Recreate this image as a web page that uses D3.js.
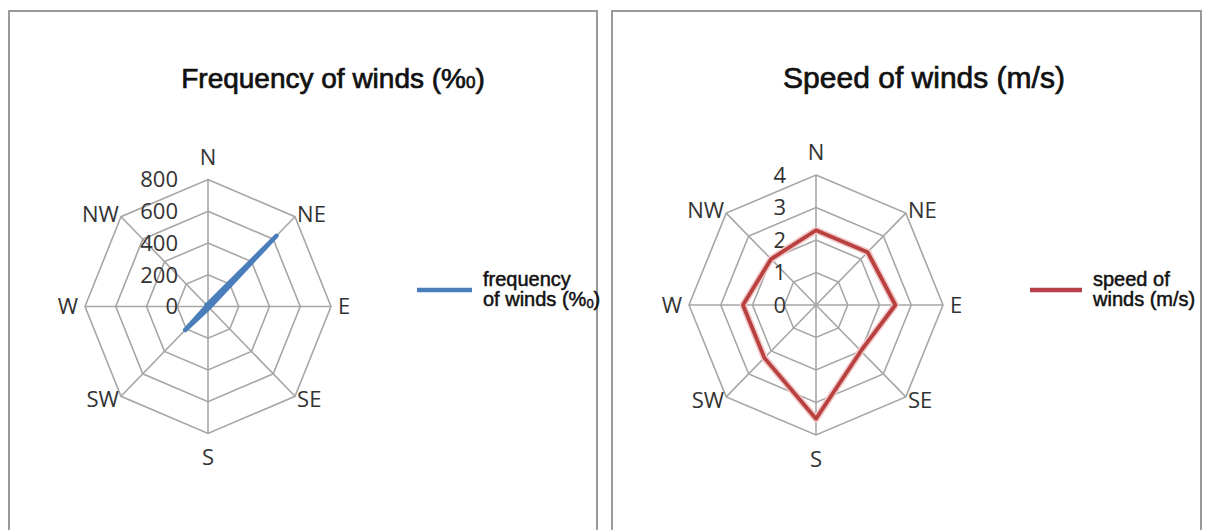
<!DOCTYPE html>
<html>
<head>
<meta charset="utf-8">
<script src="https://cdn.jsdelivr.net/npm/d3@7"></script>
<style>
  html, body { margin: 0; padding: 0; background: #fff; }
  svg { display: block; }
</style>
</head>
<body>
<svg id="chart" width="1208" height="530"></svg>
<script>
// ---------- data ----------
const directions = ["N", "NE", "E", "SE", "S", "SW", "W", "NW"];
const freqValues = [15, 630, 15, 10, 15, 210, 10, 15];
const speedValues = [2.3, 2.3, 2.5, 2.0, 3.5, 2.3, 2.3, 2.0];
const freqTicks = [0, 200, 400, 600, 800];
const speedTicks = [0, 1, 2, 3, 4];
const freqTitle = "Frequency of winds (%";
const speedTitle = "Speed of winds (m/s)";
const freqLegend = ["frequency", "of winds (%"];
const speedLegend = ["speed of", "winds (m/s)"];

const svg = d3.select("#chart");

// panel frames
function frame(x0, x1) {
  svg.append("path")
    .attr("d", `M${x0},545 L${x0},11 L${x1},11 L${x1},545`)
    .attr("fill", "none")
    .attr("stroke", "#9a9a9a")
    .attr("stroke-width", 2);
}
frame(9, 597);
frame(612, 1201);

function radar(cfg) {
  const g = svg.append("g");
  const angle = d3.scaleLinear().domain([0, directions.length]).range([0, 2 * Math.PI]);
  const radius = d3.scaleLinear().domain([0, d3.max(cfg.ticks)]).range([0, 1]);
  const px = (v, i) => cfg.cx + radius(v) * cfg.rx * Math.sin(angle(i));
  const py = (v, i) => cfg.cy - radius(v) * cfg.ry * Math.cos(angle(i));
  const maxV = d3.max(cfg.ticks);

  const ringLine = d3.line()
    .x((d, i) => px(d, i))
    .y((d, i) => py(d, i))
    .curve(d3.curveLinearClosed);

  // rings
  g.selectAll("path.ring")
    .data(cfg.ticks.filter(t => t > 0))
    .join("path")
    .attr("class", "ring")
    .attr("d", t => ringLine(directions.map(() => t)))
    .attr("fill", "none")
    .attr("stroke", "#a6a6a6")
    .attr("stroke-width", 1.6);

  // spokes
  g.selectAll("line.spoke")
    .data(directions)
    .join("line")
    .attr("class", "spoke")
    .attr("x1", cfg.cx).attr("y1", cfg.cy)
    .attr("x2", (d, i) => px(maxV, i))
    .attr("y2", (d, i) => py(maxV, i))
    .attr("stroke", "#a6a6a6")
    .attr("stroke-width", 1.6);

  // tick labels
  g.selectAll("text.tick")
    .data(cfg.ticks)
    .join("text")
    .attr("class", "tick")
    .attr("x", cfg.cx - 30)
    .attr("y", t => py(t, 0))
    .attr("dy", "0.36em")
    .attr("text-anchor", "end")
    .attr("font-family", "Open Sans")
    .attr("font-size", 22)
    .attr("fill", "#333")
    .text(d => d);

  // direction labels
  g.selectAll("text.dir")
    .data(directions)
    .join("text")
    .attr("class", "dir")
    .attr("x", (d, i) => {
      const s = Math.sin(angle(i));
      const off = Math.abs(s) > 0.9 ? 7 : (Math.abs(s) > 0.1 ? 3 : 0);
      return cfg.cx + (cfg.rx + off) * s;
    })
    .attr("y", (d, i) => {
      const c = Math.cos(angle(i));
      const off = Math.abs(c) > 0.9 ? 15 : 4;
      return cfg.cy - (cfg.ry + off) * c;
    })
    .attr("dy", (d, i) => {
      const c = Math.cos(angle(i));
      if (c > 0.9) return "0em";
      if (c < -0.9) return "0.75em";
      return "0.36em";
    })
    .attr("text-anchor", (d, i) => {
      const s = Math.sin(angle(i));
      return s > 0.1 ? "start" : (s < -0.1 ? "end" : "middle");
    })
    .attr("font-family", "Open Sans")
    .attr("font-size", 22)
    .attr("fill", "#333")
    .text(d => d);

  // data line
  const dataLine = d3.line()
    .x((d, i) => px(d, i))
    .y((d, i) => py(d, i))
    .curve(d3.curveLinearClosed);

  if (cfg.halo) {
    g.append("path")
      .attr("d", dataLine(cfg.values))
      .attr("fill", "none")
      .attr("stroke", cfg.halo)
      .attr("stroke-width", 7)
      .attr("stroke-linejoin", "round");
  }
  g.append("path")
    .attr("d", dataLine(cfg.values))
    .attr("fill", "none")
    .attr("stroke", cfg.color)
    .attr("stroke-width", cfg.width)
    .attr("stroke-linejoin", "round");

  // title
  const t = svg.append("text")
    .attr("x", cfg.titleX)
    .attr("y", 88)
    .attr("text-anchor", "middle")
    .attr("font-family", "Liberation Sans, Arial, sans-serif")
    .attr("font-size", cfg.titleSize)
    .attr("fill", "#111")
    .attr("stroke", "#111")
    .attr("stroke-width", 0.7)
    .text(cfg.title);
  if (cfg.permille) {
    t.append("tspan").attr("font-size", 17).text("0");
    t.append("tspan").text(")");
  }

  // legend
  svg.append("line")
    .attr("x1", cfg.legX).attr("x2", cfg.legX + cfg.legW)
    .attr("y1", 290).attr("y2", 290)
    .attr("stroke", cfg.legColor)
    .attr("stroke-width", 4.5);
  const lt = svg.append("text")
    .attr("x", cfg.legTextX)
    .attr("y", 286)
    .attr("font-family", "Liberation Sans, Arial, sans-serif")
    .attr("font-size", 20)
    .attr("fill", "#111")
    .attr("stroke", "#111")
    .attr("stroke-width", 0.5);
  lt.append("tspan").attr("x", cfg.legTextX).text(cfg.legend[0]);
  lt.append("tspan").attr("x", cfg.legTextX).attr("dy", 20).text(cfg.legend[1]);
  if (cfg.permille) {
    lt.append("tspan").attr("font-size", 13).attr("dy", 2).text("0");
    lt.append("tspan").attr("dy", -2).text(")");
  }
}

radar({
  cx: 208, cy: 306.5, rx: 123, ry: 127,
  ticks: freqTicks, values: freqValues,
  color: "#4a7ebb", width: 4.5, halo: null,
  title: freqTitle, titleX: 333, titleSize: 28, permille: true,
  legX: 417, legW: 55, legColor: "#4a7ebb", legTextX: 483,
  legend: freqLegend
});

radar({
  cx: 816, cy: 305, rx: 127, ry: 130,
  ticks: speedTicks, values: speedValues,
  color: "#b8403e", width: 3.8, halo: "#f0c8c8",
  title: speedTitle, titleX: 924, titleSize: 30, permille: false,
  legX: 1030, legW: 52, legColor: "#b8404a", legTextX: 1093,
  legend: speedLegend
});
</script>
</body>
</html>
